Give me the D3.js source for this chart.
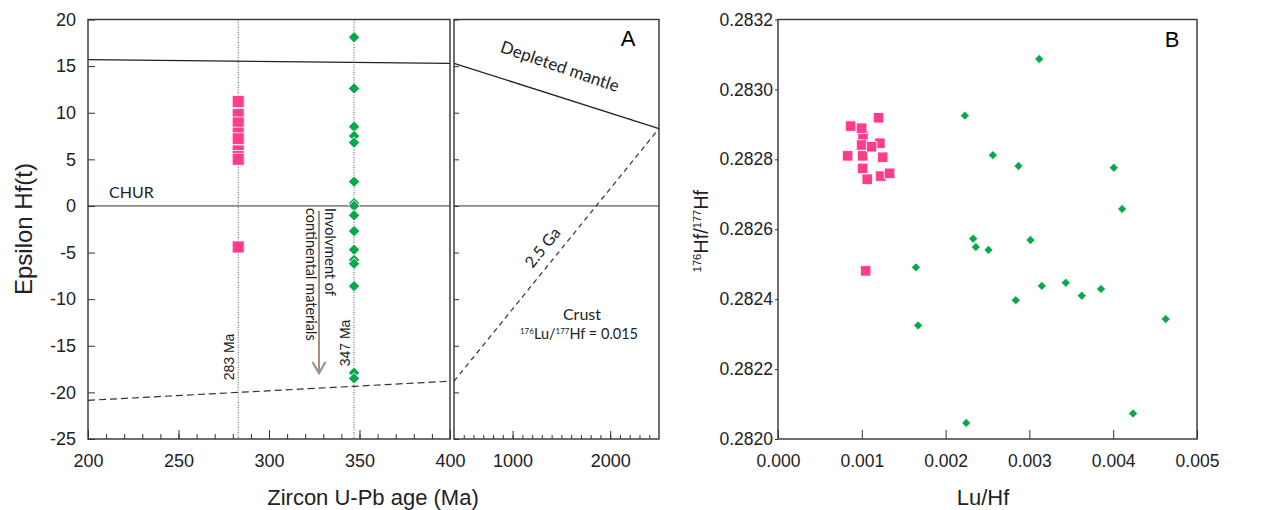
<!DOCTYPE html>
<html>
<head>
<meta charset="utf-8" />
<script src="https://cdn.jsdelivr.net/npm/d3@7"></script>
<style>
  body { margin: 0; background: #fff; }
  svg { display: block; }
  .tick text { font-family: "Liberation Sans", Arial, sans-serif; fill: #222; }
  .tick line { stroke: #333; }
  .ann { font-family: Lato, "Open Sans", sans-serif; fill: #222; }
</style>
</head>
<body>
<script>
  // Panel A : epsilon Hf(t) vs zircon age
  // --------------------------------------
  var ageGroupA = 283;   // pink samples
  var ageGroupB = 347;   // green samples
  var pinkEhf  = [11.2, 9.8, 8.9, 7.8, 7.2, 5.9, 5.3, 5.0, -4.4];
  var greenEhf = [18.1, 12.6, 8.5, 7.5, 6.8, 2.6, 0.3, 0.0, -1.0, -2.7, -4.7, -5.8, -6.2, -8.6, -17.9, -18.5];

  // evolution lines (age in Ma, epsilon Hf)
  var dmAge    = [200, 400, 2500];
  var dmEhf    = [15.7, 15.3, 8.3];
  var crustAge = [200, 400, 2500];
  var crustEhf = [-20.85, -18.8, 8.3];

  var ageTicksLeft  = [200, 250, 300, 350, 400];
  var ageTicksRight = [1000, 2000];
  var ehfTicks = [-25, -20, -15, -10, -5, 0, 5, 10, 15, 20];

  // Panel B : 176Hf/177Hf vs Lu/Hf
  // --------------------------------------
  var pinkLuHf  = [0.000867, 0.001201, 0.001014, 0.001010, 0.000831, 0.001216, 0.001249, 0.001010, 0.001065, 0.001225, 0.001332, 0.000998, 0.001117, 0.000998, 0.001046];
  var pinkHfHf  = [0.282895, 0.282919, 0.282869, 0.282810, 0.282810, 0.282846, 0.282806, 0.282774, 0.282743, 0.282752, 0.282760, 0.282841, 0.282836, 0.282889, 0.282481];
  var greenLuHf = [0.002230, 0.003117, 0.002564, 0.002869, 0.004007, 0.004106, 0.002329, 0.002361, 0.002512, 0.003013, 0.001646, 0.003148, 0.003434, 0.003625, 0.003855, 0.002838, 0.004627, 0.001673, 0.002246, 0.004237];
  var greenHfHf = [0.282925, 0.283087, 0.282812, 0.282781, 0.282776, 0.282658, 0.282573, 0.282549, 0.282541, 0.282569, 0.282491, 0.282438, 0.282447, 0.282410, 0.282429, 0.282397, 0.282343, 0.282325, 0.282046, 0.282073];

  var luTicks = [0, 0.001, 0.002, 0.003, 0.004, 0.005];
  var hfTicks = [0.2820, 0.2822, 0.2824, 0.2826, 0.2828, 0.2830, 0.2832];

  var pink = "#ff3d8c";
  var green = "#0aa84c";
  var font = "'Liberation Sans', Arial, sans-serif";

  var w = 1286, h = 510;
  var svg = d3.select("body").append("svg").attr("width", w).attr("height", h);

  var yTop = 19.5, yBot = 439;
  var xL = d3.scaleLinear().domain([200, 400]).range([88, 450]);
  var xR = d3.scaleLinear().domain([400, 2500]).range([454, 659]);
  var y  = d3.scaleLinear().domain([-25, 20]).range([yBot, yTop]);

  var xB = d3.scaleLinear().domain([0, 0.005]).range([778, 1197]);
  var yB = d3.scaleLinear().domain([0.2820, 0.2832]).range([yBot, yTop]);

  // plain hyphen minus, like the original figure
  var intFmt = function(d) { return String(d); };

  function frame(x0, x1) {
    svg.append("rect")
       .attr("x", x0).attr("y", yTop)
       .attr("width", x1 - x0).attr("height", yBot - yTop)
       .attr("fill", "none").attr("stroke", "#333").attr("stroke-width", 1.4);
  }

  function clean(g) { g.select(".domain").remove(); }

  // ---- panel A axes
  // minor age ticks
  svg.append("g").attr("transform", "translate(0," + yBot + ")")
     .call(d3.axisBottom(xL).tickValues(d3.range(210, 400, 10)).tickSize(-5).tickFormat(""))
     .call(clean);
  svg.append("g").attr("transform", "translate(0," + yBot + ")")
     .call(d3.axisBottom(xL).tickValues(ageTicksLeft).tickSize(-9).tickPadding(15).tickFormat(intFmt))
     .call(clean)
     .selectAll("text").style("font-size", "18px");
  svg.append("g").attr("transform", "translate(0," + yBot + ")")
     .call(d3.axisBottom(xR).tickValues(d3.range(500, 2500, 100)).tickSize(-4).tickFormat(""))
     .call(clean);
  svg.append("g").attr("transform", "translate(0," + yBot + ")")
     .call(d3.axisBottom(xR).tickValues(ageTicksRight).tickSize(-8).tickPadding(15).tickFormat(intFmt))
     .call(clean)
     .selectAll("text").style("font-size", "18px");

  svg.append("g").attr("transform", "translate(88,0)")
     .call(d3.axisLeft(y).tickValues(ehfTicks).tickSize(-7).tickPadding(12).tickFormat(intFmt))
     .call(clean)
     .selectAll("text").style("font-size", "18px");
  svg.append("g").attr("transform", "translate(454,0)")
     .call(d3.axisLeft(y).tickValues(ehfTicks).tickSize(-5).tickFormat(""))
     .call(clean);

  frame(88, 450);
  frame(454, 659);

  // reference lines
  var line = d3.line().x(function(d) { return d[0]; }).y(function(d) { return d[1]; });

  svg.append("path")
     .attr("d", line([[xL(200), y(0)], [xL(400), y(0)]]))
     .attr("stroke", "#333").attr("stroke-width", 1).attr("fill", "none");
  svg.append("path")
     .attr("d", line([[xR(400), y(0)], [xR(2500), y(0)]]))
     .attr("stroke", "#333").attr("stroke-width", 1).attr("fill", "none");

  svg.append("path")
     .attr("d", line([[xL(dmAge[0]), y(dmEhf[0])], [xL(dmAge[1]), y(dmEhf[1])]]))
     .attr("stroke", "#222").attr("stroke-width", 1.3).attr("fill", "none");
  svg.append("path")
     .attr("d", line([[xR(dmAge[1]), y(dmEhf[1])], [xR(dmAge[2]), y(dmEhf[2])]]))
     .attr("stroke", "#222").attr("stroke-width", 1.3).attr("fill", "none");

  svg.append("path")
     .attr("d", line([[xL(crustAge[0]), y(crustEhf[0])], [xL(crustAge[1]), y(crustEhf[1])]]))
     .attr("stroke", "#333").attr("stroke-width", 1.2).attr("stroke-dasharray", "7,4").attr("fill", "none");
  svg.append("path")
     .attr("d", line([[xR(crustAge[1]), y(crustEhf[1])], [xR(crustAge[2]), y(crustEhf[2])]]))
     .attr("stroke", "#333").attr("stroke-width", 1.2).attr("stroke-dasharray", "5,4").attr("fill", "none");

  // sample age lines
  [ageGroupA, ageGroupB].forEach(function(a) {
    svg.append("line")
       .attr("x1", xL(a)).attr("x2", xL(a)).attr("y1", yTop).attr("y2", yBot)
       .attr("stroke", "#444").attr("stroke-width", 0.9).attr("stroke-dasharray", "1,1.5");
  });

  // arrow
  svg.append("line")
     .attr("x1", 319).attr("x2", 319).attr("y1", 211).attr("y2", 372)
     .attr("stroke", "#a68f80").attr("stroke-width", 2);
  svg.append("path")
     .attr("d", "M312.5,362 L319,373 L325.5,362")
     .attr("stroke", "#a68f80").attr("stroke-width", 2.2).attr("fill", "none");

  // symbols (diamond = square turned 45 degrees)
  var sq = d3.symbol().type(d3.symbolSquare);

  svg.append("g").selectAll("path").data(pinkEhf).enter().append("path")
     .attr("d", sq.size(144))
     .attr("transform", function(d) { return "translate(" + xL(ageGroupA) + "," + y(d) + ")"; })
     .attr("fill", pink).attr("stroke", "#fff").attr("stroke-width", 0.8);

  svg.append("g").selectAll("path").data(greenEhf).enter().append("path")
     .attr("d", sq.size(64))
     .attr("transform", function(d) { return "translate(" + xL(ageGroupB) + "," + y(d) + ") rotate(45)"; })
     .attr("fill", green).attr("stroke", "#fff").attr("stroke-width", 0.8);

  // annotations A
  svg.append("text").attr("class", "ann").attr("x", 109).attr("y", 198)
     .style("font-size", "16px").text("CHUR");

  svg.append("text").attr("class", "ann")
     .attr("transform", "translate(234,357) rotate(-90)")
     .attr("text-anchor", "middle")
     .style("font-family", font).style("font-size", "14px")
     .text(ageGroupA + " Ma");
  svg.append("text").attr("class", "ann")
     .attr("transform", "translate(350,343) rotate(-90)")
     .attr("text-anchor", "middle")
     .style("font-family", font).style("font-size", "14px")
     .text(ageGroupB + " Ma");

  svg.append("text").attr("class", "ann")
     .attr("transform", "translate(325,208) rotate(90)")
     .style("font-size", "14.5px").text("Involvment of");
  svg.append("text").attr("class", "ann")
     .attr("transform", "translate(306,208) rotate(90)")
     .style("font-size", "14.5px").text("continental materials");

  svg.append("text").attr("class", "ann")
     .attr("transform", "translate(558,72) rotate(19)")
     .attr("text-anchor", "middle").style("font-size", "17px")
     .text("Depleted mantle");

  svg.append("text").attr("class", "ann")
     .attr("transform", "translate(547,251) rotate(-51)")
     .attr("text-anchor", "middle").style("font-size", "16px")
     .text("2.5 Ga");

  svg.append("text").attr("class", "ann").attr("x", 582).attr("y", 320)
     .attr("text-anchor", "middle").style("font-size", "16px").text("Crust");

  var lu = svg.append("text").attr("class", "ann").attr("x", 579).attr("y", 339)
     .attr("text-anchor", "middle").style("font-size", "14.5px");
  lu.append("tspan").attr("dy", -5).style("font-size", "8px").text("176");
  lu.append("tspan").attr("dy", 5).text("Lu/");
  lu.append("tspan").attr("dy", -5).style("font-size", "8px").text("177");
  lu.append("tspan").attr("dy", 5).text("Hf = 0.015");

  svg.append("text").attr("x", 628).attr("y", 46).attr("text-anchor", "middle")
     .style("font-family", font).style("font-size", "22px").text("A");

  svg.append("text").attr("x", 373).attr("y", 505).attr("text-anchor", "middle")
     .style("font-family", font).style("font-size", "22px").attr("fill", "#222")
     .text("Zircon U-Pb age (Ma)");
  svg.append("text").attr("transform", "translate(32,229) rotate(-90)").attr("text-anchor", "middle")
     .style("font-family", font).style("font-size", "24px").attr("fill", "#222")
     .text("Epsilon Hf(t)");

  // ---- panel B
  svg.append("g").attr("transform", "translate(0," + yBot + ")")
     .call(d3.axisBottom(xB).tickValues(luTicks).tickSize(-9).tickPadding(16).tickFormat(d3.format(".3f")))
     .call(clean)
     .selectAll("text").style("font-size", "17.5px");
  svg.append("g").attr("transform", "translate(778,0)")
     .call(d3.axisLeft(yB).tickValues(hfTicks).tickSize(3).tickPadding(2).tickFormat(d3.format(".4f")))
     .call(clean)
     .selectAll("text").style("font-size", "17.5px");

  frame(778, 1197);

  svg.append("g").selectAll("path").data(pinkLuHf).enter().append("path")
     .attr("d", sq.size(110))
     .attr("transform", function(d, i) { return "translate(" + xB(d) + "," + yB(pinkHfHf[i]) + ")"; })
     .attr("fill", pink).attr("stroke", "#fff").attr("stroke-width", 0.8);

  svg.append("g").selectAll("path").data(greenLuHf).enter().append("path")
     .attr("d", sq.size(40))
     .attr("transform", function(d, i) { return "translate(" + xB(d) + "," + yB(greenHfHf[i]) + ") rotate(45)"; })
     .attr("fill", green).attr("stroke", "#fff").attr("stroke-width", 0.6);

  svg.append("text").attr("x", 1172).attr("y", 47).attr("text-anchor", "middle")
     .style("font-family", font).style("font-size", "22px").text("B");

  svg.append("text").attr("x", 983).attr("y", 505).attr("text-anchor", "middle")
     .style("font-family", font).style("font-size", "22px").attr("fill", "#222")
     .text("Lu/Hf");

  var yl = svg.append("text").attr("transform", "translate(708,231) rotate(-90)").attr("text-anchor", "middle")
     .style("font-family", font).style("font-size", "20px").attr("fill", "#222");
  yl.append("tspan").attr("dy", -7).style("font-size", "11px").text("176");
  yl.append("tspan").attr("dy", 7).text("Hf/");
  yl.append("tspan").attr("dy", -7).style("font-size", "11px").text("177");
  yl.append("tspan").attr("dy", 7).text("Hf");
</script>
</body>
</html>
